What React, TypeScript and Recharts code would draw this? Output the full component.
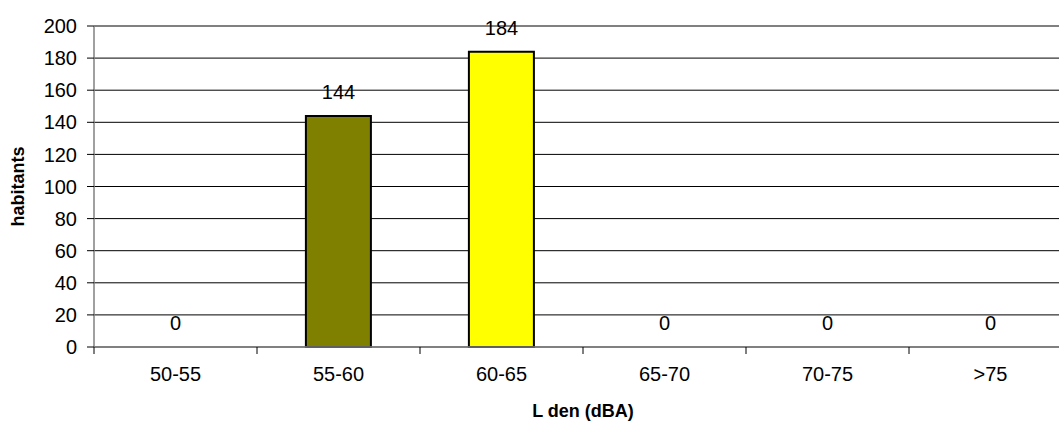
import React from 'react';
import { ComposedChart, Bar, Line, XAxis, YAxis, CartesianGrid, Cell, LabelList, ReferenceLine } from 'recharts';

const categories = ['50-55', '55-60', '60-65', '65-70', '70-75', '>75'];
const habitants = [0, 144, 184, 0, 0, 0];
const barColors = ['#808000', '#808000', '#FFFF00', '#808000', '#808000', '#808000'];
const yTicks = [0, 20, 40, 60, 80, 100, 120, 140, 160, 180, 200];
const yTitle = 'habitants';
const xTitle = 'L den (dBA)';

const data = categories.map((c, i) => ({ cat: c, value: habitants[i] }));

const FONT = 'Arial, "Liberation Sans", sans-serif';
const FS = 20;
const X_TICK_SIZE = 7;
const X_TICK_MARGIN = 13;

const CategoryTick = (props: any) => {
  const { x, y, payload, width, visibleTicksCount } = props;
  const band = width / (visibleTicksCount || 1);
  const bx = x - band / 2;
  const axisY = y - X_TICK_SIZE - X_TICK_MARGIN;
  return (
    <g>
      <line x1={bx} y1={axisY} x2={bx} y2={axisY + X_TICK_SIZE} stroke="#000" strokeWidth={1} />
      <text x={x} y={y} dy="0.71em" textAnchor="middle" fontSize={FS} fontFamily={FONT} fill="#000">
        {payload.value}
      </text>
    </g>
  );
};

export default function App() {
  return (
    <div style={{ position: 'absolute', left: 0, top: 0, width: 1059, height: 424, overflow: 'hidden', background: '#fff' }}>
      <ComposedChart
        width={1080}
        height={424}
        data={data}
        margin={{ top: 26, right: 8, left: 0, bottom: 0 }}
        barCategoryGap="30%"
        style={{ fontFamily: FONT }}
      >
        <CartesianGrid horizontal vertical={false} stroke="#000" strokeWidth={1} />
        <XAxis
          dataKey="cat"
          height={77}
          axisLine={{ stroke: '#808080', strokeWidth: 1.5 }}
          tickLine={false}
          tickSize={X_TICK_SIZE}
          tickMargin={X_TICK_MARGIN}
          interval={0}
          tick={CategoryTick}
          label={{
            content: (props: any) => {
              const vb = props.viewBox || {};
              return (
                <text x={vb.x + vb.width / 2} y={417} textAnchor="middle" fontSize={18} fontWeight="bold" fontFamily={FONT} fill="#000">
                  {xTitle}
                </text>
              );
            },
          }}
        />
        <YAxis
          width={94}
          domain={[0, 200]}
          ticks={yTicks}
          interval={0}
          axisLine={{ stroke: '#808080', strokeWidth: 1.5 }}
          tickLine={{ stroke: '#000', strokeWidth: 1 }}
          tickSize={7}
          tickMargin={10}
          tick={{ fill: '#000', fontSize: FS, fontFamily: FONT }}
          label={{
            content: (props: any) => {
              const vb = props.viewBox || {};
              const cx = 18;
              const cy = vb.y + vb.height / 2;
              return (
                <text x={cx} y={cy} transform={`rotate(-90 ${cx} ${cy})`} textAnchor="middle" dominantBaseline="central" fontSize={18} fontWeight="bold" fontFamily={FONT} fill="#000">
                  {yTitle}
                </text>
              );
            },
          }}
        />
        <ReferenceLine y={200} stroke="#808080" strokeWidth={1.5} />
        <Bar dataKey="value" stroke="#000" strokeWidth={2} isAnimationActive={false}>
          {data.map((d, i) => (
            <Cell key={d.cat} fill={barColors[i]} />
          ))}
        </Bar>
        <Line dataKey="value" stroke="none" dot={false} activeDot={false} isAnimationActive={false} legendType="none">
          <LabelList dataKey="value" position="top" offset={17} fill="#000" fontSize={FS} fontFamily={FONT} />
        </Line>
      </ComposedChart>
    </div>
  );
}
